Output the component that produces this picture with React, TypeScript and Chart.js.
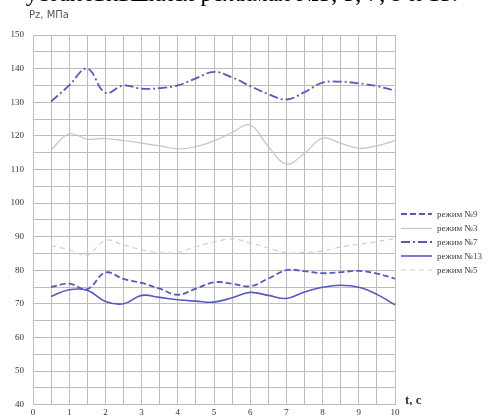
import React, { useEffect, useRef } from "react";
import { Chart, registerables } from "chart.js";

Chart.register(...registerables);

const times = [0.5, 1, 1.5, 2, 2.5, 3, 3.5, 4, 4.5, 5, 5.5, 6, 6.5, 7, 7.5, 8, 8.5, 9, 9.5, 10];
const rezhim9 = [75, 76, 74.4, 79.3, 77.4, 76.2, 74.5, 72.7, 74.5, 76.4, 76, 75.2, 77.5, 80, 79.7, 79.1, 79.4, 79.8, 79, 77.5];
const rezhim3 = [115.8, 120.6, 119, 119.2, 118.6, 117.8, 117, 116.1, 116.8, 118.5, 121, 123.2, 116.8, 111.6, 114.8, 119.3, 117.8, 116.3, 117, 118.6];
const rezhim7 = [130.2, 135, 140, 132.8, 135, 134, 134.2, 135, 137.1, 139, 137.4, 134.8, 132.4, 130.8, 133, 135.8, 136.1, 135.6, 134.8, 133.4];
const rezhim13 = [72.2, 74.2, 74, 70.7, 70, 72.5, 71.9, 71.2, 70.8, 70.5, 71.8, 73.4, 72.5, 71.6, 73.5, 74.9, 75.5, 74.9, 72.8, 69.7];
const rezhim5 = [87.3, 86.1, 84.5, 88.9, 87.5, 86.1, 85.2, 85.3, 87, 88.4, 89.3, 88.1, 86.6, 85.2, 85.3, 85.7, 86.9, 87.7, 88.5, 89.4];

const legendLabels = ["режим №9", "режим №3", "режим №7", "режим №13", "режим №5"];
const yTitle = "Pz, МПа";
const xTitle = "t, с";
const heading = "установившихся режимах №3, 5, 7, 9 и 13.";

const BLUE = "#5858c4";
const GRAY = "#c4c4c4";

const seriesDefs = [
  { label: legendLabels[0], data: rezhim9, color: BLUE, width: 1.8, dash: [6, 3] },
  { label: legendLabels[1], data: rezhim3, color: GRAY, width: 1.2, dash: [] },
  { label: legendLabels[2], data: rezhim7, color: BLUE, width: 1.8, dash: [9, 3, 2, 3] },
  { label: legendLabels[3], data: rezhim13, color: BLUE, width: 1.6, dash: [] },
  { label: legendLabels[4], data: rezhim5, color: "#cfcfcf", width: 1.2, dash: [5, 4] },
];

export default function App() {
  const ref = useRef<HTMLCanvasElement>(null);

  useEffect(() => {
    if (!ref.current) return;
    const legendPlugin = {
      id: "customLegend",
      afterDraw(chart: any) {
        const ctx = chart.ctx;
        ctx.save();
        const ys = [214, 228.5, 242, 256, 270];
        seriesDefs.forEach((s, i) => {
          const y = ys[i];
          ctx.beginPath();
          ctx.strokeStyle = s.color;
          ctx.lineWidth = s.width;
          ctx.setLineDash(s.dash);
          ctx.moveTo(401, y);
          ctx.lineTo(432, y);
          ctx.stroke();
          ctx.setLineDash([]);
          ctx.fillStyle = "#444";
          ctx.font = "9px 'Liberation Serif', serif";
          ctx.textBaseline = "middle";
          ctx.textAlign = "left";
          ctx.fillText(s.label, 437, y + 0.5);
        });
        ctx.fillStyle = "#555";
        ctx.font = "10px 'DejaVu Sans', sans-serif";
        ctx.textAlign = "left";
        ctx.fillText(yTitle, 29, 15);
        ctx.fillStyle = "#333";
        ctx.font = "bold 13px 'Liberation Serif', serif";
        ctx.fillText(xTitle, 405, 401);
        ctx.restore();
      },
    };

    const chart = new Chart(ref.current, {
      type: "line",
      data: {
        datasets: seriesDefs.map((s) => ({
          label: s.label,
          data: times.map((t, i) => ({ x: t, y: s.data[i] })),
          borderColor: s.color,
          borderWidth: s.width,
          borderDash: s.dash,
          pointRadius: 0,
          tension: 0.4,
          fill: false,
        })),
      },
      options: {
        animation: false,
        responsive: false,
        maintainAspectRatio: false,
        layout: { padding: { left: 0, top: 35, right: 94, bottom: 0 } },
        plugins: { legend: { display: false }, tooltip: { enabled: false } },
        scales: {
          x: {
            type: "linear",
            min: 0,
            max: 10,
            afterFit: (scale: any) => {
              scale.height = 14;
            },
            ticks: {
              stepSize: 0.5,
              autoSkip: false,
              maxRotation: 0,
              padding: 3,
              color: "#333",
              font: { family: "'Liberation Serif', serif", size: 9 },
              callback: (v: any) => (Number.isInteger(Number(v)) ? String(v) : ""),
            },
            grid: { color: "#bdbdbd", lineWidth: 1, drawTicks: false },
            border: { color: "#bdbdbd" },
          },
          y: {
            min: 40,
            max: 150,
            afterFit: (scale: any) => {
              scale.width = 33;
            },
            ticks: {
              stepSize: 5,
              autoSkip: false,
              padding: 9,
              color: "#333",
              font: { family: "'Liberation Serif', serif", size: 9 },
              callback: (v: any) => (Number(v) % 10 === 0 ? String(v) : ""),
            },
            grid: { color: "#bdbdbd", lineWidth: 1, drawTicks: false },
            border: { color: "#bdbdbd" },
          },
        },
      },
      plugins: [legendPlugin],
    });
    return () => chart.destroy();
  }, []);

  return (
    <div style={{ position: "fixed", left: 0, top: 0, width: 489, height: 419, background: "#fff", overflow: "hidden" }}>
      <canvas ref={ref} width={489} height={419} style={{ position: "absolute", left: 0, top: 0, width: 489, height: 419 }} />
      <div
        style={{
          position: "absolute",
          left: -40,
          top: -19,
          width: 498,
          textAlign: "right",
          whiteSpace: "nowrap",
          font: "24px 'Liberation Serif', serif",
          lineHeight: "24px",
          color: "#000",
        }}
      >
        {heading}
      </div>
    </div>
  );
}
